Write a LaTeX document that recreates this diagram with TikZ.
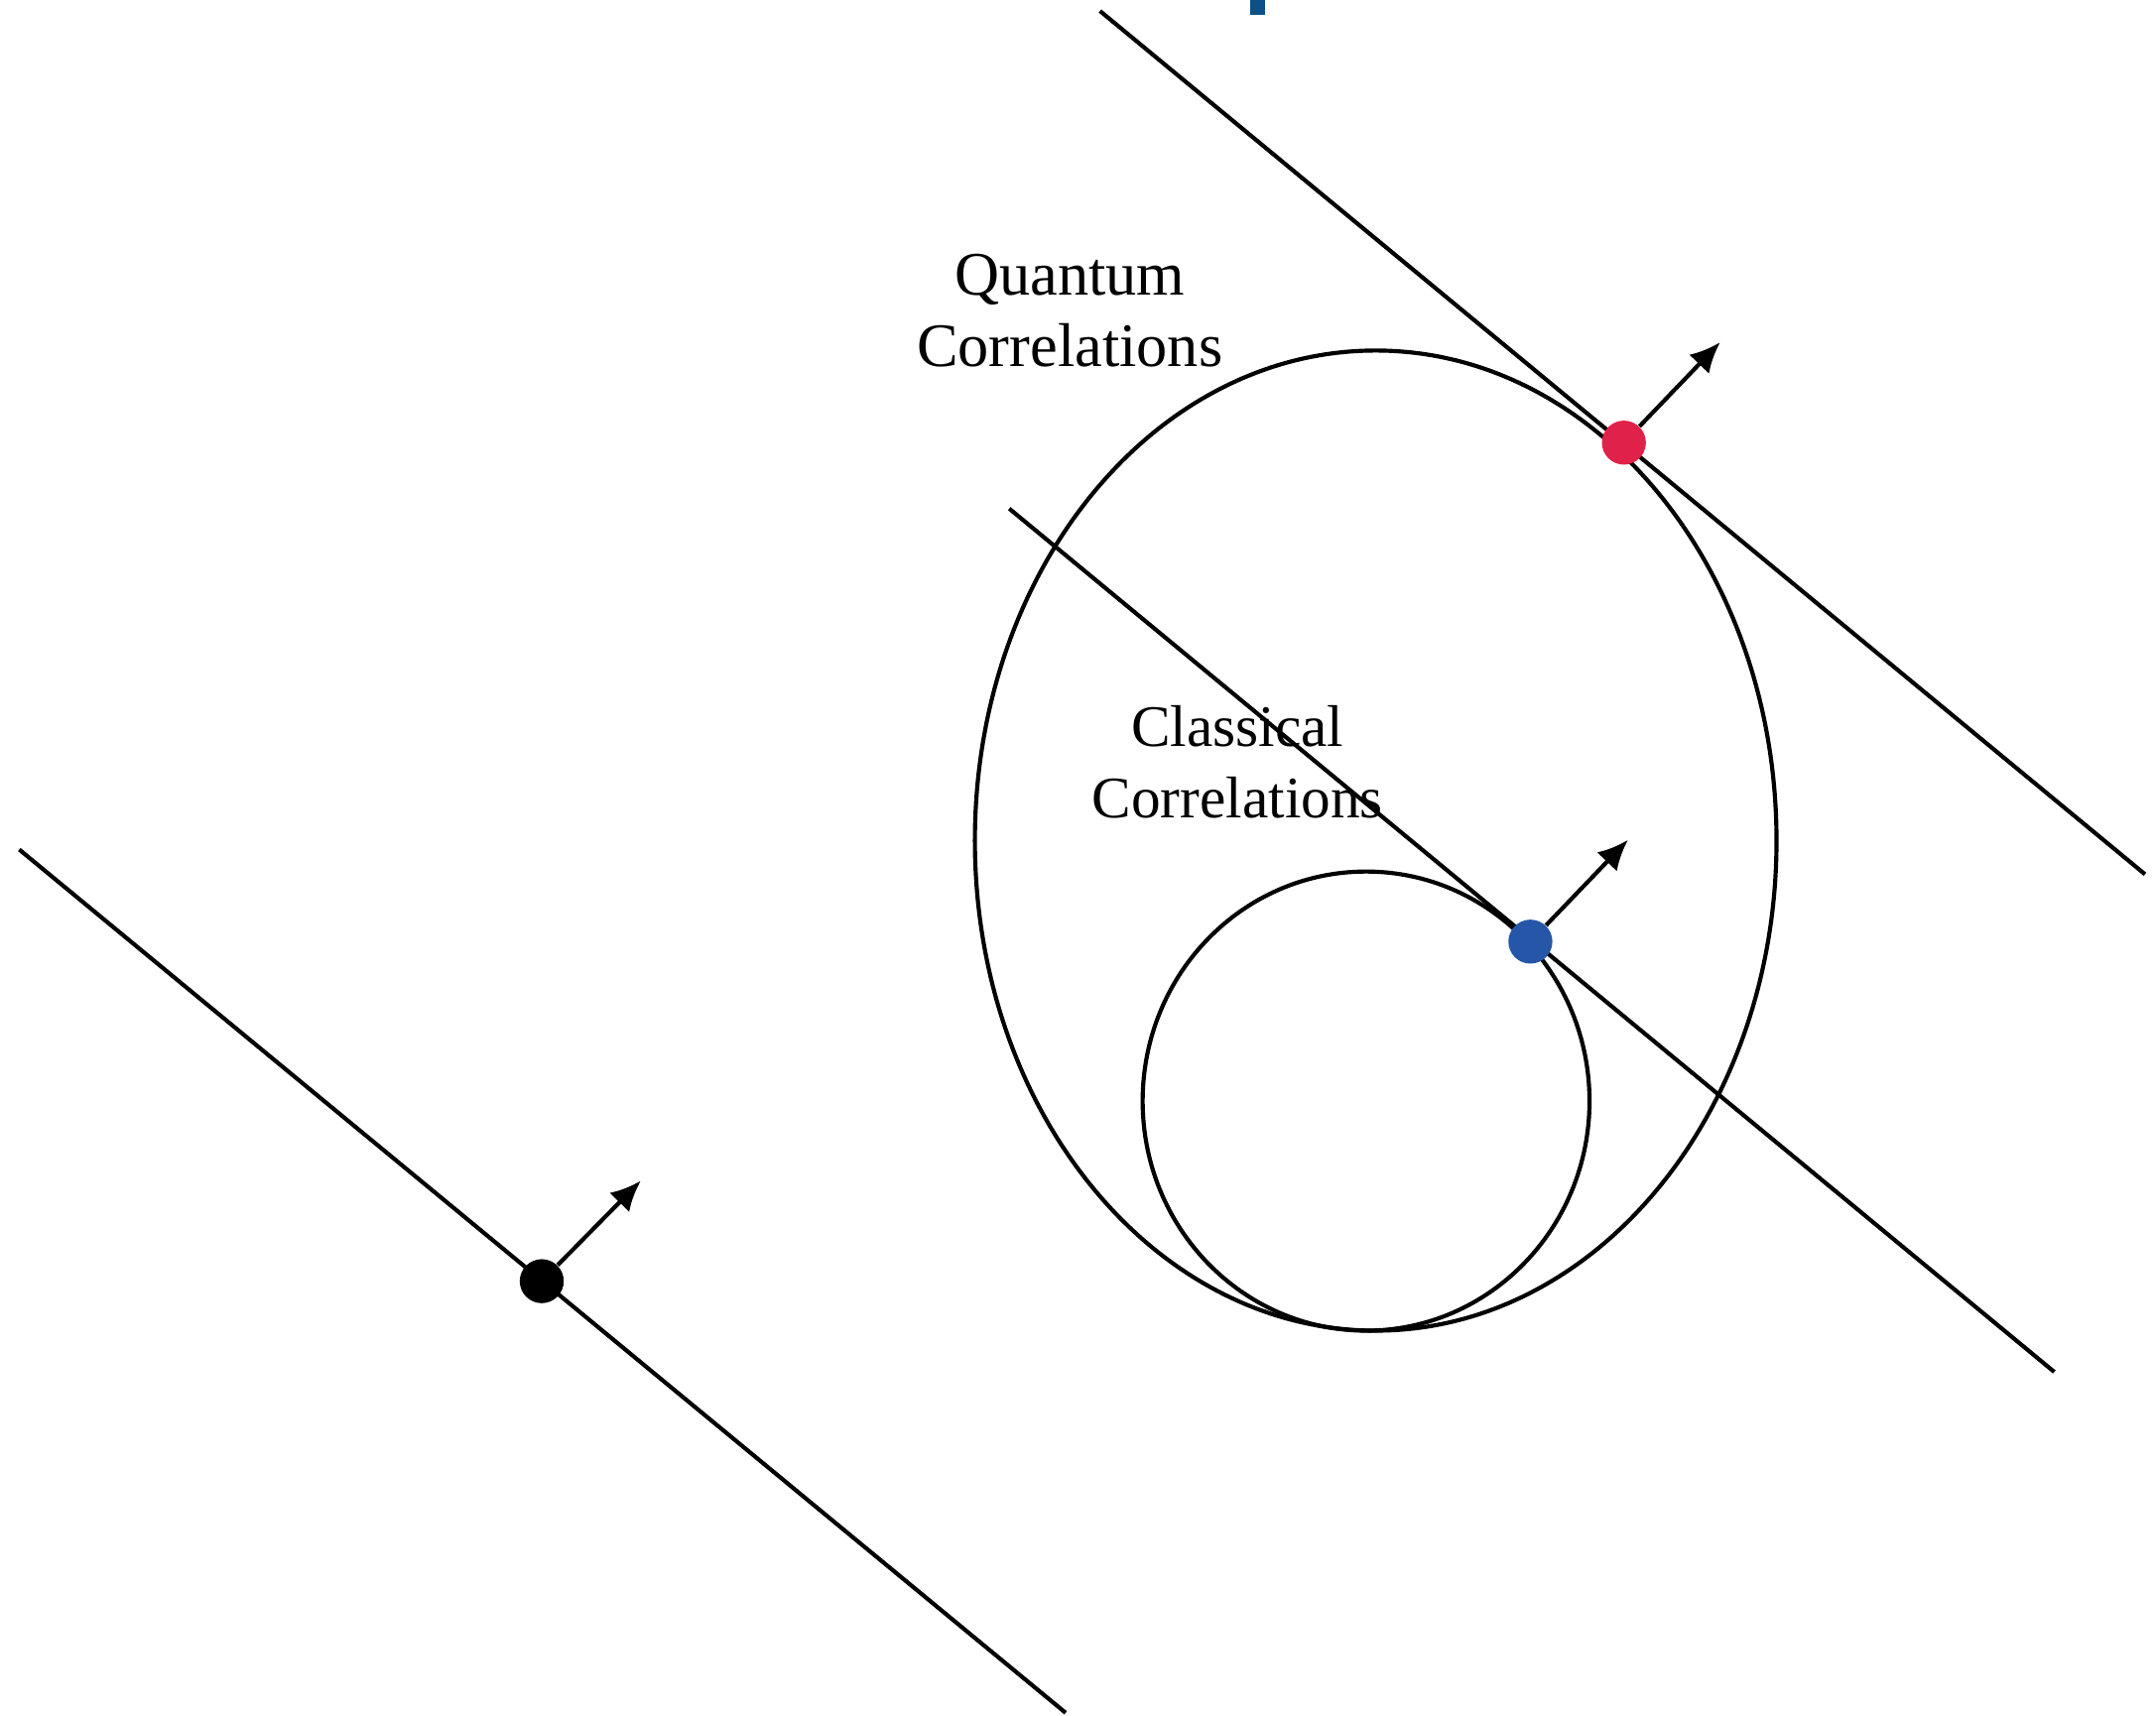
\documentclass[tikz,border=0pt]{standalone}
\usepackage{fontspec}
\setmainfont{Liberation Serif}
\usetikzlibrary{arrows.meta}
\definecolor{dotred}{HTML}{E0224A}
\definecolor{dotblue}{HTML}{2556A8}
\definecolor{titleblue}{HTML}{0B5186}
\begin{document}
\begin{tikzpicture}[x=0.5pt,y=-0.5pt,
  curve/.style={line width=1.5pt},
  dotnode/.style={circle,inner sep=0pt,minimum size=16pt},
  normalarrow/.style={line width=1.5pt,-{Latex[length=11pt,width=10pt]}},
  lbl/.style={font=\fontsize{22.5}{26}\selectfont,align=center,inner sep=0pt},
  smalllbl/.style={font=\fontsize{21.4}{26}\selectfont,align=center,inner sep=0pt}]
\useasboundingbox (0,0) rectangle (1568,1248);
\fill[white] (0,0) rectangle (1568,1248);
% cut-off title fragment
\fill[titleblue] (909,0) rectangle (920,11);
% sets
\draw[curve] (1000.5,611.5) ellipse [x radius=291.5, y radius=356.5];
\draw[curve] (993.5,801) ellipse [x radius=162.5, y radius=167];
% line end points
\coordinate (t1) at (800,8);
\coordinate (t2) at (1560,636);
\coordinate (m1) at (734,370);
\coordinate (m2) at (1494,998);
\coordinate (b1) at (14,618);
\coordinate (b2) at (775,1246);
\draw[curve] (t1) -- (t2);
\draw[curve] (m1) -- (m2);
\draw[curve] (b1) -- (b2);
% dots
\node[dotnode,fill=dotred] (red) at (1181,322) {};
\node[dotnode,fill=dotblue] (blue) at (1113,685) {};
\node[dotnode,fill=black] (blk) at (394,932) {};
% normals
\coordinate (ra) at (1251,249);
\coordinate (ba) at (1184,611);
\coordinate (ka) at (466,859);
\draw[normalarrow] (red) -- (ra);
\draw[normalarrow] (blue) -- (ba);
\draw[normalarrow] (blk) -- (ka);
% labels
\node[lbl] (qc) at (778,226) {Quantum\\Correlations};
\node[smalllbl] (cc) at (900,554) {Classical\\Correlations};
\end{tikzpicture}
\end{document}
